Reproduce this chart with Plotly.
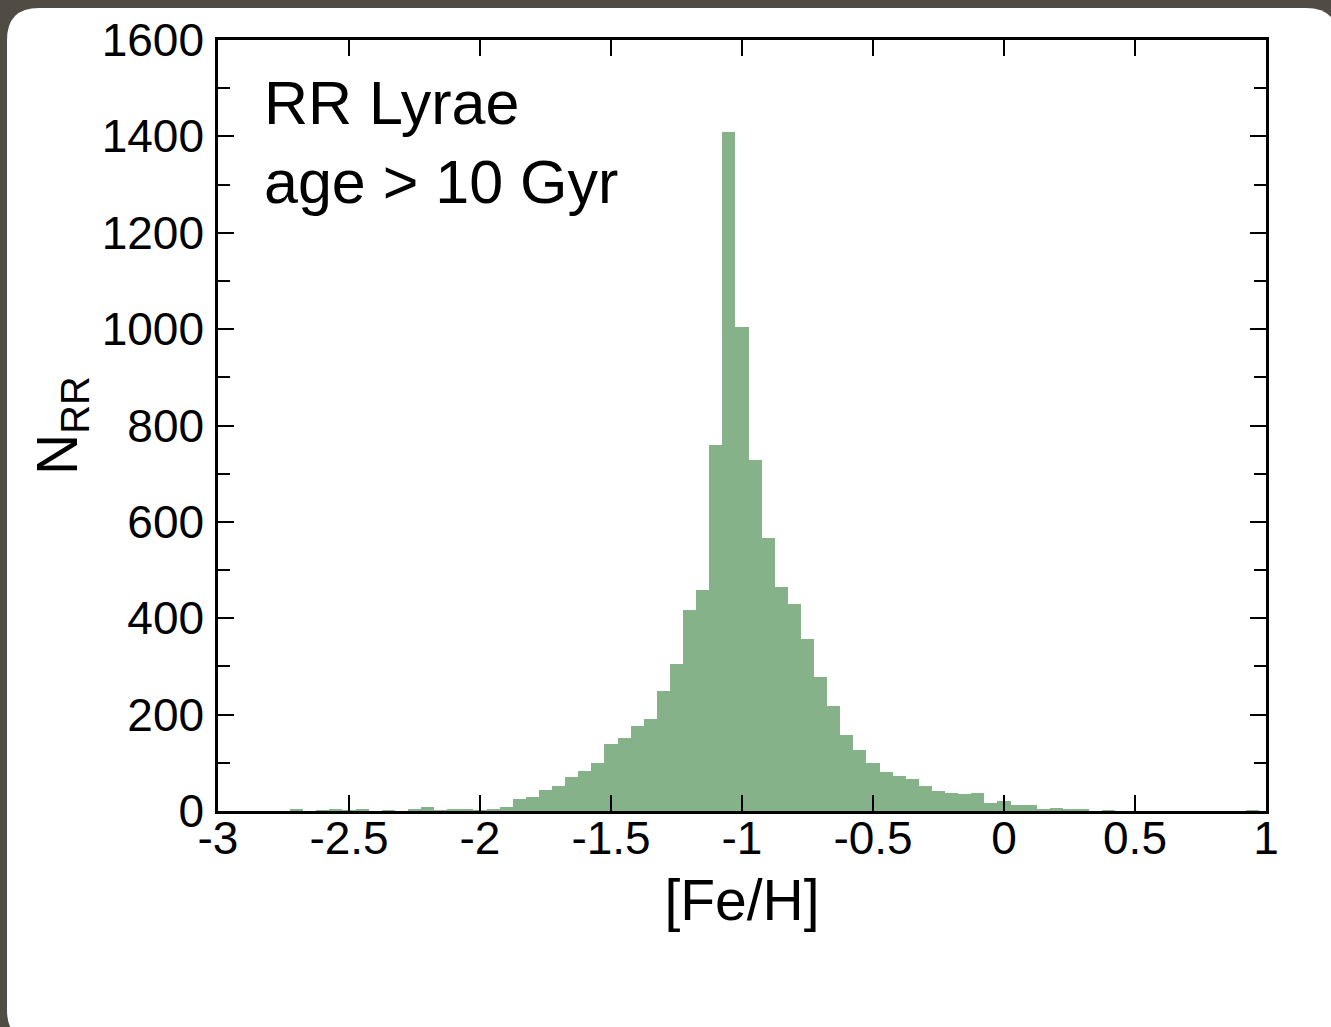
import plotly.graph_objects as go

# Histogram bin centres ([Fe/H]) and counts (N_RR)
feh_bins = [-2.70, -2.65, -2.60, -2.55, -2.50, -2.45, -2.40, -2.35, -2.30, -2.25,
            -2.20, -2.15, -2.10, -2.05, -2.00, -1.95, -1.90, -1.85, -1.80, -1.75,
            -1.70, -1.65, -1.60, -1.55, -1.50, -1.45, -1.40, -1.35, -1.30, -1.25,
            -1.20, -1.15, -1.10, -1.05, -1.00, -0.95, -0.90, -0.85, -0.80, -0.75,
            -0.70, -0.65, -0.60, -0.55, -0.50, -0.45, -0.40, -0.35, -0.30, -0.25,
            -0.20, -0.15, -0.10, -0.05, 0.00, 0.05, 0.10, 0.15, 0.20, 0.25,
            0.30, 0.35, 0.40, 0.95]
n_rr = [4, 0, 2, 4, 2, 4, 0, 2, 0, 4,
        8, 2, 4, 4, 2, 4, 8, 25, 29, 44,
        52, 70, 82, 100, 140, 151, 176, 191, 249, 305,
        417, 458, 759, 1410, 1004, 728, 566, 465, 429, 357,
        278, 218, 158, 127, 100, 81, 73, 66, 52, 41,
        37, 36, 37, 17, 21, 13, 13, 4, 6, 4,
        4, 0, 2, 1]
bin_width = 0.05

x_tickvals = [-3, -2.5, -2, -1.5, -1, -0.5, 0, 0.5, 1]
x_ticktext = ["-3", "-2.5", "-2", "-1.5", "-1", "-0.5", "0", "0.5", "1"]
y_tickvals = [0, 200, 400, 600, 800, 1000, 1200, 1400, 1600]

W, H = 1331, 1027
L, R, T, B = 218, 65, 40, 216
PW, PH = W - L - R, H - T - B


def px(x):
    return (x - L) / PW


def py(y):
    return (H - B - y) / PH


# White rounded card behind the chart (pixel geometry converted to paper coords)
x0, x1, y0, y1, r = 7, 1338, 8, 1042, 32
card = (f"M {px(x0 + r)},{py(y0)} L {px(x1 - r)},{py(y0)} "
        f"Q {px(x1)},{py(y0)} {px(x1)},{py(y0 + r)} "
        f"L {px(x1)},{py(y1 - r)} Q {px(x1)},{py(y1)} {px(x1 - r)},{py(y1)} "
        f"L {px(x0 + r)},{py(y1)} Q {px(x0)},{py(y1)} {px(x0)},{py(y1 - r)} "
        f"L {px(x0)},{py(y0 + r)} Q {px(x0)},{py(y0)} {px(x0 + r)},{py(y0)} Z")

fig = go.Figure()
fig.add_trace(go.Bar(
    x=feh_bins, y=n_rr, width=bin_width,
    marker=dict(color="#85b288", line=dict(width=0)),
    showlegend=False,
))

font_family = "Liberation Sans, Arial, Helvetica, sans-serif"

fig.update_layout(
    width=W, height=H,
    margin=dict(l=L, r=R, t=T, b=B, autoexpand=False),
    paper_bgcolor="#514b45",
    plot_bgcolor="rgba(0,0,0,0)",
    bargap=0,
    font=dict(family=font_family, color="black", size=46),
    shapes=[dict(type="path", path=card, xref="paper", yref="paper",
                 fillcolor="white", line=dict(width=0), layer="below")],
    annotations=[dict(
        text="RR Lyrae<br>age > 10 Gyr", xref="paper", yref="paper",
        x=px(262), y=py(67), xanchor="left", yanchor="top", align="left",
        showarrow=False, font=dict(size=61, family=font_family, color="black"),
    )],
)

fig.update_xaxes(
    range=[-3, 1], tickvals=x_tickvals, ticktext=x_ticktext,
    ticks="inside", ticklen=16, tickwidth=2, tickcolor="black",
    showline=True, linecolor="black", linewidth=2.5, mirror="ticks",
    showgrid=False, zeroline=False,
    tickfont=dict(size=46), ticklabelstandoff=-15,
    title=dict(text="[Fe/H]", font=dict(size=57), standoff=18),
    automargin=False,
)
fig.update_yaxes(
    range=[0, 1600], tickvals=y_tickvals,
    ticks="inside", ticklen=16, tickwidth=2, tickcolor="black",
    minor=dict(dtick=100, ticks="inside", ticklen=12, tickwidth=2, tickcolor="black"),
    showline=True, linecolor="black", linewidth=2.5, mirror="ticks",
    showgrid=False, zeroline=False,
    tickfont=dict(size=46), ticklabelstandoff=2,
    title=dict(text="N<sub>RR</sub>", font=dict(size=57), standoff=6),
    automargin=False,
)

fig.write_html("out.html")
